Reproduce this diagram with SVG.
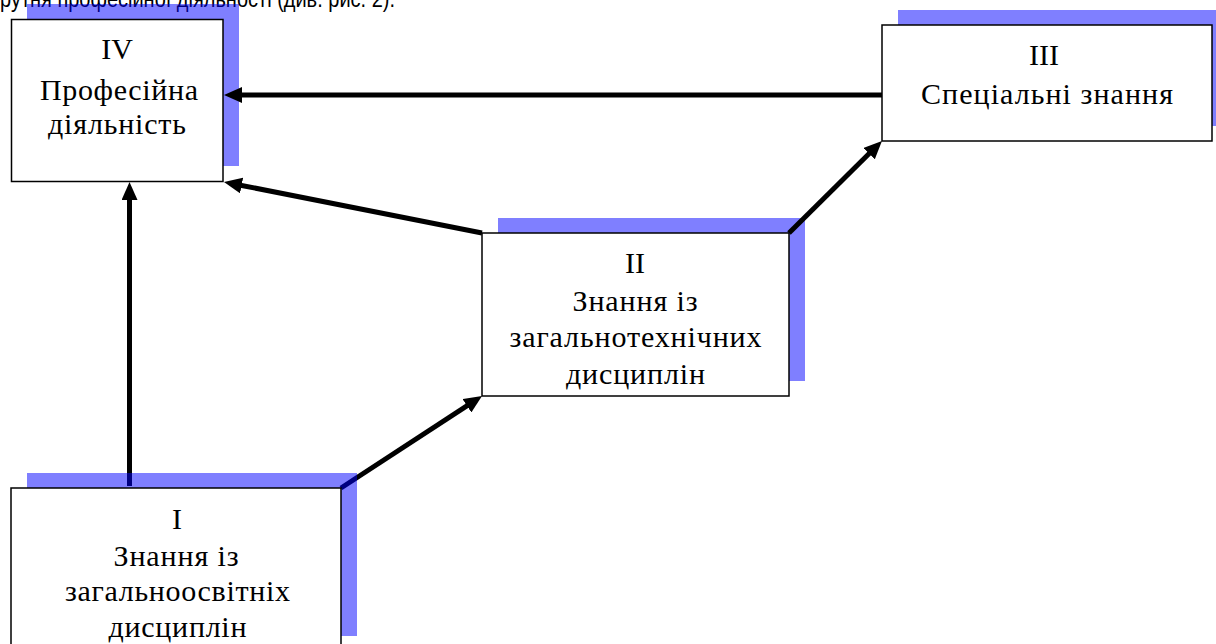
<svg xmlns="http://www.w3.org/2000/svg" width="1216" height="644" viewBox="0 0 1216 644">
<style>
.bg{fill:#ffffff}
.top{font-family:"Liberation Sans",Arial,sans-serif;font-size:23px;fill:#000}
.sh{fill:#0000ff;fill-opacity:0.5}
.box{fill:#ffffff;stroke:#000;stroke-width:1.5}
.lbl{font-family:"Liberation Serif","Times New Roman",serif;font-size:30px;fill:#000;text-anchor:middle}
.con{stroke:#000;stroke-width:5;fill:none;marker-end:url(#ah)}
</style>
<defs>
<marker id="ah" markerUnits="userSpaceOnUse" viewBox="0 -8 18 16" markerWidth="18" markerHeight="16" refX="4" refY="0" orient="auto">
<path d="M0,-8 L18,0 L0,8 z" fill="#000"/>
</marker>
</defs>
<rect class="bg" x="0" y="0" width="1216" height="644"/>
<text class="top" x="0" y="7" textLength="395" lengthAdjust="spacingAndGlyphs">рутня професійної діяльності (див. рис. 2).</text>

<g id="node-IV">
<rect class="sh" x="27" y="4" width="212" height="162"/>
<rect class="box" x="11.5" y="19.5" width="211.5" height="162"/>
<text class="lbl" x="117" y="59">IV</text>
<text class="lbl" x="119" y="99.5" textLength="158" lengthAdjust="spacing">Професійна</text>
<text class="lbl" x="117" y="134" textLength="138" lengthAdjust="spacing">діяльність</text>
</g>

<g id="node-III">
<rect class="sh" x="898" y="10" width="330" height="116"/>
<rect class="box" x="882" y="25" width="330" height="116"/>
<text class="lbl" x="1044" y="65">III</text>
<text class="lbl" x="1047" y="104" textLength="252" lengthAdjust="spacing">Спеціальні знання</text>
</g>

<g id="node-II">
<rect class="sh" x="498" y="218" width="307" height="163"/>
<rect class="box" x="482" y="233" width="307" height="163"/>
<text class="lbl" x="635" y="273">II</text>
<text class="lbl" x="635" y="311" textLength="125" lengthAdjust="spacing">Знання із</text>
<text class="lbl" x="635.5" y="347" textLength="252" lengthAdjust="spacing">загальнотехнічних</text>
<text class="lbl" x="635.5" y="384" textLength="139" lengthAdjust="spacing">дисциплін</text>
</g>

<g id="connectors">
<line class="con" x1="882" y1="95" x2="238" y2="95"/>
<line class="con" x1="482" y1="233" x2="237.7" y2="184.7"/>
<line class="con" x1="789" y1="233" x2="872" y2="150.8"/>
<line class="con" x1="341" y1="488" x2="470.3" y2="403.6"/>
<line class="con" x1="129.5" y1="486" x2="129.5" y2="196"/>
</g>

<g id="node-I">
<rect class="sh" x="27" y="473" width="330" height="163"/>
<rect class="box" x="11" y="488" width="330" height="163"/>
<text class="lbl" x="177" y="529">I</text>
<text class="lbl" x="176" y="566" textLength="125" lengthAdjust="spacing">Знання із</text>
<text class="lbl" x="177.5" y="601" textLength="225" lengthAdjust="spacing">загальноосвітніх</text>
<text class="lbl" x="177.5" y="637" textLength="138" lengthAdjust="spacing">дисциплін</text>
</g>
</svg>
